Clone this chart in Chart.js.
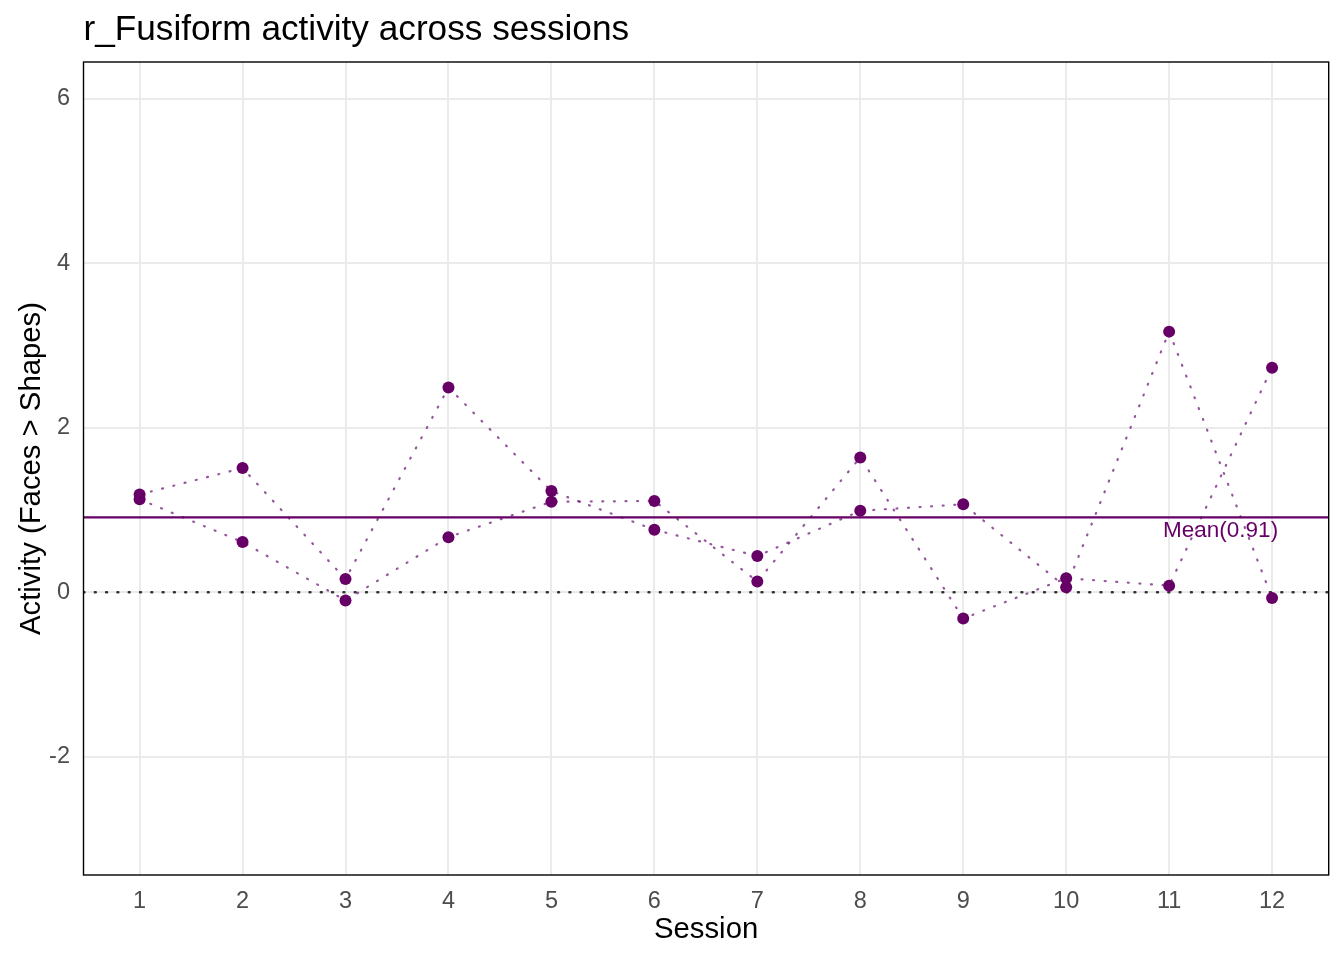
<!DOCTYPE html>
<html>
<head>
<meta charset="utf-8">
<title>r_Fusiform activity across sessions</title>
<script src="https://cdn.jsdelivr.net/npm/chart.js@4.4.1/dist/chart.umd.min.js"></script>
<style>
  html, body { margin: 0; padding: 0; background: #ffffff; }
  #wrap { position: relative; width: 1344px; height: 960px; }
</style>
</head>
<body>
<div id="wrap"><canvas id="sessionChart"></canvas></div>
<script>
// Data
const sessions = [1, 2, 3, 4, 5, 6, 7, 8, 9, 10, 11, 12];
const runA = [1.19, 1.51, 0.16, 2.49, 1.23, 0.76, 0.44, 0.99, 1.07, 0.06, 3.17, -0.07];
const runB = [1.13, 0.61, -0.10, 0.67, 1.10, 1.11, 0.13, 1.64, -0.32, 0.17, 0.08, 2.73];
const yTicks = [-2, 0, 2, 4, 6];
const meanValue = 0.91;
const meanLabelX = 11.5;
const xLimits = [0.455, 12.55];
const yLimits = [-3.44, 6.45];

const chartTitle = "r_Fusiform activity across sessions";
const xTitle = "Session";
const yTitle = "Activity (Faces > Shapes)";

// Styles
const FONT = "'Liberation Sans', Arial, Helvetica, sans-serif";
const POINT_COLOR = "#660066";
const PATH_COLOR = "rgba(110, 20, 120, 0.72)";
const GRID_COLOR = "#ebebeb";

const toPoints = (vals) => sessions.map((s, i) => ({ x: s, y: vals[i] }));
const hline = (v) => [{ x: xLimits[0], y: v }, { x: xLimits[1], y: v }];

// Title, panel border and mean label
const decorations = {
  id: "decorations",
  afterDatasetsDraw(chart) {
    const { ctx, chartArea, scales } = chart;
    ctx.save();
    ctx.fillStyle = POINT_COLOR;
    ctx.font = `22.5px ${FONT}`;
    ctx.textAlign = "center";
    ctx.textBaseline = "alphabetic";
    ctx.fillText(`Mean(${meanValue})`,
      scales.x.getPixelForValue(meanLabelX),
      scales.y.getPixelForValue(meanValue) + 20);
    ctx.restore();
  },
  afterDraw(chart) {
    const { ctx, chartArea } = chart;
    ctx.save();
    ctx.strokeStyle = "#000000";
    ctx.lineWidth = 1.4;
    ctx.strokeRect(chartArea.left, chartArea.top,
      chartArea.right - chartArea.left, chartArea.bottom - chartArea.top);
    ctx.fillStyle = "#000000";
    ctx.font = `35.2px ${FONT}`;
    ctx.textAlign = "left";
    ctx.textBaseline = "alphabetic";
    ctx.fillText(chartTitle, chartArea.left, 40);
    ctx.restore();
  },
};

const ctx = document.getElementById("sessionChart").getContext("2d");
new Chart(ctx, {
  type: "scatter",
  data: {
    datasets: [
      {
        label: "zero",
        data: hline(0),
        showLine: true,
        borderColor: "#333333",
        borderWidth: 2.4,
        borderDash: [1, 10.3],
        borderCapStyle: "round",
        pointRadius: 0,
        order: 5,
      },
      {
        label: "Run A path",
        data: toPoints(runA),
        showLine: true,
        borderColor: PATH_COLOR,
        borderWidth: 2.2,
        borderDash: [1, 10.6],
        borderCapStyle: "round",
        pointRadius: 0,
        order: 4,
      },
      {
        label: "Run B path",
        data: toPoints(runB),
        showLine: true,
        borderColor: PATH_COLOR,
        borderWidth: 2.2,
        borderDash: [1, 10.6],
        borderCapStyle: "round",
        pointRadius: 0,
        order: 4,
      },
      {
        label: "mean",
        data: hline(meanValue),
        showLine: true,
        borderColor: POINT_COLOR,
        borderWidth: 2.2,
        pointRadius: 0,
        order: 3,
      },
      {
        label: "Run A",
        data: toPoints(runA),
        showLine: false,
        backgroundColor: POINT_COLOR,
        borderWidth: 0,
        pointRadius: 6,
        order: 1,
      },
      {
        label: "Run B",
        data: toPoints(runB),
        showLine: false,
        backgroundColor: POINT_COLOR,
        borderWidth: 0,
        pointRadius: 6,
        order: 1,
      },
    ],
  },
  options: {
    responsive: true,
    maintainAspectRatio: false,
    animation: false,
    layout: { padding: { top: 62, right: 15.3, left: 0, bottom: 0 } },
    plugins: {
      legend: { display: false },
      tooltip: { enabled: false },
      title: { display: false },
    },
    scales: {
      x: {
        type: "linear",
        min: xLimits[0],
        max: xLimits[1],
        afterBuildTicks: (scale) => {
          scale.ticks = sessions.map((v) => ({ value: v }));
        },
        afterFit: (scale) => { scale.height = 85; },
        grid: { color: GRID_COLOR, lineWidth: 2, drawTicks: false },
        border: { display: false },
        ticks: {
          color: "#4d4d4d",
          font: { family: FONT, size: 23.5 },
          padding: 12,
          autoSkip: false,
          maxRotation: 0,
          callback: (v) => String(v),
        },
        title: {
          display: true,
          text: xTitle,
          color: "#000000",
          font: { family: FONT, size: 29.3 },
          padding: { top: 0, bottom: 12.7 },
        },
      },
      y: {
        type: "linear",
        min: yLimits[0],
        max: yLimits[1],
        afterBuildTicks: (scale) => {
          scale.ticks = yTicks.map((v) => ({ value: v }));
        },
        afterFit: (scale) => { scale.width = 83.5; },
        grid: { color: GRID_COLOR, lineWidth: 2, drawTicks: false },
        border: { display: false },
        ticks: {
          color: "#4d4d4d",
          font: { family: FONT, size: 23.5 },
          padding: 13.5,
          callback: (v) => String(v),
        },
        title: {
          display: true,
          text: yTitle,
          color: "#000000",
          font: { family: FONT, size: 29.3 },
          padding: { top: 14, bottom: 0 },
        },
      },
    },
  },
  plugins: [decorations],
});
</script>
</body>
</html>
